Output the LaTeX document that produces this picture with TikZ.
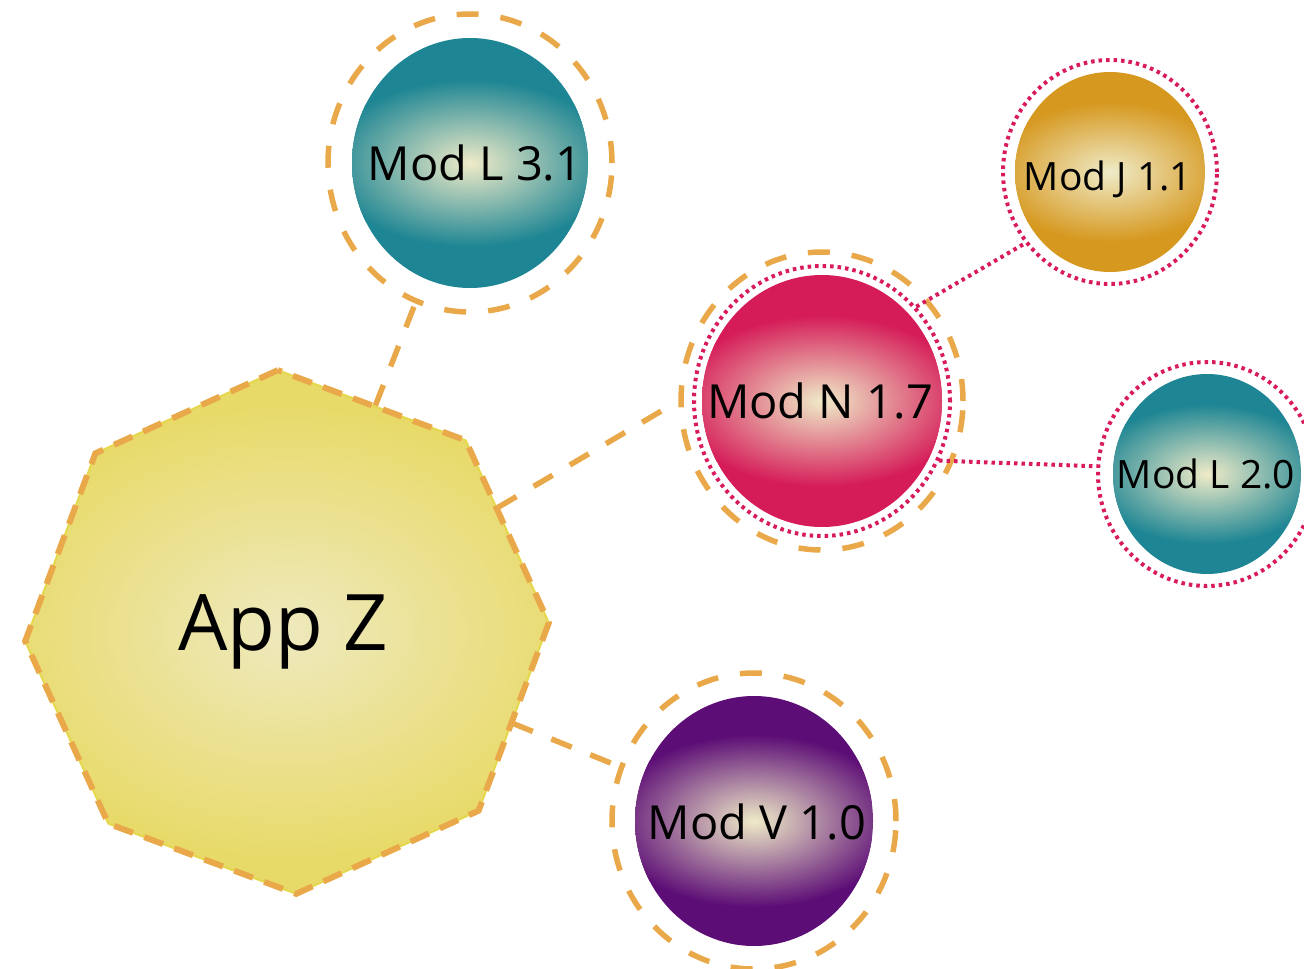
\documentclass[tikz,border=0pt]{standalone}
\usepackage{fontspec}
\setmainfont{Open Sans}
\usetikzlibrary{shapes.geometric}

\definecolor{cream}{HTML}{EFEBC8}
\definecolor{tealc}{HTML}{1D8593}
\definecolor{magc}{HTML}{D51B58}
\definecolor{goldc}{HTML}{D6981F}
\definecolor{purpc}{HTML}{5D0E76}
\definecolor{dashorange}{HTML}{E9A94B}
\definecolor{dotpink}{HTML}{D81B5F}
\definecolor{appouter}{HTML}{E8DA68}
\definecolor{appinner}{HTML}{EEE9BE}
\definecolor{appedge}{HTML}{E6D84C}

\begin{document}
\begin{tikzpicture}[x=1pt,y=-1pt,
  % shaded module ball: colour, x and y radius of the bright core
  ball/.style n args={3}{ellipse, inner sep=0pt, draw=none,
    path picture={
      \fill[#1] (path picture bounding box.south west) rectangle (path picture bounding box.north east);
      \shade[inner color=cream, outer color=#1] (path picture bounding box.center) ellipse [x radius=#2, y radius=#3];}},
  dashring/.style={ellipse, inner sep=0pt, draw=dashorange, line width=5.5pt, dash pattern=on 22pt off 22pt},
  dotring/.style={ellipse, inner sep=0pt, draw=dotpink, line width=4pt, dash pattern=on 3.5pt off 4pt},
  lbl/.style={anchor=base, inner sep=0pt, text=black},
  condash/.style={draw=dashorange, line width=5.5pt, dash pattern=on 22pt off 20pt},
  condot/.style={draw=dotpink, line width=4pt, dash pattern=on 3.5pt off 4pt},
]
\useasboundingbox (0,0) rectangle (1304,969);

% application hub
\node[regular polygon, regular polygon sides=8, shape border rotate=24.5,
      minimum size=524pt, inner sep=0pt, draw=appedge, line width=2pt,
      path picture={
        \fill[appouter] (path picture bounding box.south west) rectangle (path picture bounding box.north east);
        \shade[inner color=appinner, outer color=appouter] (path picture bounding box.center) ellipse [x radius=310, y radius=230];},
      postaction={draw=dashorange, line width=6pt, dash pattern=on 20pt off 12pt}]
      (appz) at (287,632) {};
\node[lbl, font=\fontsize{78}{78}\selectfont] (appzt) at (283,650) {App Z};

% Mod L 3.1
\node[ball={tealc}{145}{84}, minimum width=236pt, minimum height=250pt] (l31) at (470,163) {};
\node[dashring, minimum width=284pt, minimum height=298pt] (l31r) at (470,163) {};
\node[lbl, font=\fontsize{47}{47}\selectfont] (l31t) at (475,180) {Mod L 3.1};

% Mod N 1.7
\node[ball={magc}{148}{86}, minimum width=240pt, minimum height=252pt] (n17) at (822,401) {};
\node[dotring, minimum width=256pt, minimum height=270pt] (n17d) at (822,401) {};
\node[dashring, minimum width=282pt, minimum height=298pt] (n17r) at (822,401) {};
\node[lbl, font=\fontsize{47}{47}\selectfont] (n17t) at (820,418) {Mod N 1.7};

% Mod J 1.1
\node[ball={goldc}{118}{70}, minimum width=190pt, minimum height=200pt] (j11) at (1110,172) {};
\node[dotring, minimum width=214pt, minimum height=224pt] (j11d) at (1110,172) {};
\node[lbl, font=\fontsize{39}{39}\selectfont] (j11t) at (1108,190) {Mod J 1.1};

% Mod L 2.0
\node[ball={tealc}{118}{70}, minimum width=188pt, minimum height=200pt] (l20) at (1207,474) {};
\node[dotring, minimum width=218pt, minimum height=224pt] (l20d) at (1207,474) {};
\node[lbl, font=\fontsize{39}{39}\selectfont] (l20t) at (1206,488) {Mod L 2.0};

% Mod V 1.0
\node[ball={purpc}{146}{86}, minimum width=238pt, minimum height=250pt] (v10) at (754,821) {};
\node[dashring, minimum width=284pt, minimum height=296pt] (v10r) at (754,821) {};
\node[lbl, font=\fontsize{47}{47}\selectfont] (v10t) at (757,839) {Mod V 1.0};

% dependency links
\draw[condash] (appz) -- (l31r);
\draw[condash] (appz) -- (n17r.west);
\draw[condash] (appz) -- (v10r);
\draw[condot] (n17d.45) -- (j11d.220);
\draw[condot] (n17d.-27) -- (l20d.176);
\end{tikzpicture}
\end{document}
